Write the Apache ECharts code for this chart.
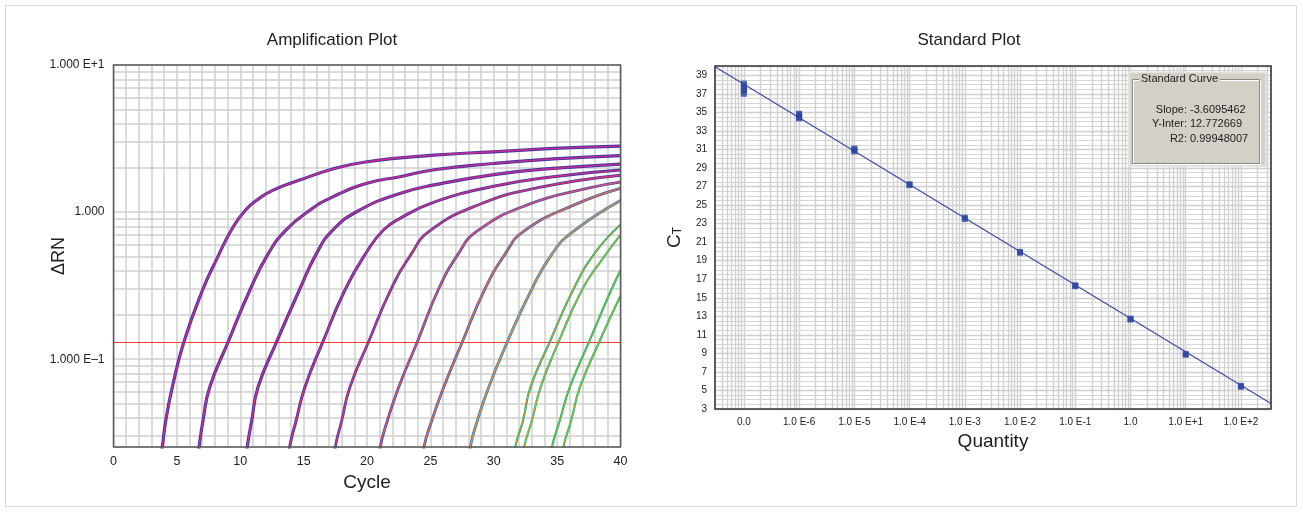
<!DOCTYPE html>
<html>
<head>
<meta charset="utf-8">
<script src="https://cdn.jsdelivr.net/npm/echarts@6/dist/echarts.min.js"></script>
<style>
  html, body { margin: 0; padding: 0; background: #fff; }
  #main { width: 1302px; height: 512px; }
</style>
</head>
<body>
<div id="main"></div>
<script>
// ---- Amplification plot: [cycle, deltaRn], one bundle per dilution ----
const run1 = [[3.5, 0.015], [3.85, 0.0253], [4.12, 0.038], [4.64, 0.0645], [5.54, 0.13], [7.06, 0.30], [8.2, 0.49], [9.3, 0.755], [10.4, 1.03], [11.5, 1.24], [12.6, 1.41], [14.7, 1.65], [17.1, 1.94], [20, 2.2], [25.3, 2.44], [30, 2.57], [34.7, 2.71], [40, 2.81]]
const run2 = [[6.45, 0.015], [6.75, 0.0253], [7.06, 0.0382], [7.59, 0.0645], [9.03, 0.13], [10.8, 0.30], [12.2, 0.52], [13.6, 0.755], [15.5, 1.03], [17.3, 1.27], [20, 1.57], [22.6, 1.74], [25.3, 1.94], [30, 2.14], [34.7, 2.3], [40, 2.42]]
const run3 = [[10.25, 0.015], [10.55, 0.0253], [10.9, 0.038], [11.4, 0.0645], [12.85, 0.13], [14.7, 0.30], [16, 0.52], [17.3, 0.755], [19.4, 1.03], [22.6, 1.34], [25.3, 1.53], [30, 1.8], [34.7, 1.98], [40, 2.12]]
const run4 = [[13.6, 0.015], [13.9, 0.0253], [14.4, 0.038], [15.1, 0.0645], [16.5, 0.13], [18.3, 0.30], [20, 0.54], [21.3, 0.755], [22.6, 0.906], [25.3, 1.17], [30, 1.5], [34.7, 1.74], [40, 1.93]]
const run5 = [[17.2, 0.015], [17.5, 0.0253], [18.0, 0.038], [18.65, 0.0645], [20.1, 0.13], [21.9, 0.30], [23.5, 0.52], [24.9, 0.74], [28.9, 1.13], [33.6, 1.47], [40, 1.78]]
const run6 = [[20.75, 0.015], [21.05, 0.0253], [21.6, 0.038], [22.5, 0.0645], [23.95, 0.13], [25.65, 0.30], [27.2, 0.52], [28.65, 0.74], [32.65, 1.12], [37.35, 1.45], [40, 1.6]]
const run7 = [[24.2, 0.015], [24.5, 0.0253], [25.1, 0.038], [26.05, 0.0645], [27.5, 0.13], [29.3, 0.30], [30.9, 0.52], [32.35, 0.74], [36.35, 1.12], [40, 1.45]]
const run8 = [[27.85, 0.015], [28.15, 0.0253], [28.7, 0.038], [29.6, 0.0645], [31.05, 0.13], [33.0, 0.30], [34.6, 0.52], [36.1, 0.72], [40, 1.2]]
const run9a = [[31.4, 0.015], [31.7, 0.0253], [32.3, 0.038], [32.9, 0.0645], [34.4, 0.13], [36.3, 0.30], [38, 0.53], [40, 0.82]]
const run9b = [[32.1, 0.015], [32.4, 0.0253], [33.0, 0.038], [33.7, 0.0645], [35.1, 0.13], [37.0, 0.30], [38.5, 0.47], [40, 0.7]]
const run10a = [[34.3, 0.015], [34.6, 0.0253], [35.2, 0.038], [36.0, 0.0645], [37.5, 0.13], [39.3, 0.30], [40, 0.4]]
const run10b = [[35.2, 0.015], [35.5, 0.0253], [36.1, 0.038], [36.8, 0.0645], [38.3, 0.13], [40, 0.27]]
const threshold = 0.13
const rnTickLabels = { '-1': '1.000 E\u20131', '0': '1.000', '1': '1.000 E+1' }

// ---- Standard plot ----
const quantities = [1e-7, 1e-6, 1e-5, 1e-4, 1e-3, 1e-2, 1e-1, 1, 10, 100]
const ctReplicates = [
  [37.0, 37.3, 37.6, 37.85, 38.1],
  [34.35, 34.5, 34.7, 34.85],
  [30.8, 30.95, 31.1],
  [27.15, 27.25],
  [23.5, 23.65],
  [19.85, 19.95],
  [16.25, 16.35],
  [12.65, 12.75],
  [8.85, 8.95],
  [5.4, 5.5]
]
const quantityRange = [3e-8, 350]
const fitLine = [[3e-8, 39.93], [350, 3.59]]
const quantityTickLabels = ['0.0', '1.0 E-6', '1.0 E-5', '1.0 E-4', '1.0 E-3', '1.0 E-2', '1.0 E-1', '1.0', '1.0 E+1', '1.0 E+2']
const curveStats = [['Slope:', '-3.6095462'], ['Y-Inter:', '12.772669'], ['R2:', '0.99948007']]

const narrow = '"Liberation Sans Narrow", "Arial Narrow", sans-serif'
const sans = '"Liberation Sans", Arial, sans-serif'
const gridLine = { color: '#cfcfcf', width: 1.5 }
const stdGrid = { color: '#d0d0d0', width: 1.4 }

// quantity axis is drawn in decades (log10 of the quantity)
const dec = q => Math.log10(q)

// pens for each run: a wider under-stroke and a thin over-stroke
const runs = [run1, run2, run3, run4, run5, run6, run7, run8, run9a, run9b, run10a, run10b]
const pens = [
  [['#3b39a5', 3.2], ['#d4278c', 1.4]],
  [['#3b39a5', 3.2], ['#d4278c', 1.4]],
  [['#3b39a5', 3.2], ['#d4278c', 1.4]],
  [['#3b39a5', 3.0], ['#d62c84', 1.4]],
  [['#3d40aa', 2.8], ['#e0306e', 1.3]],
  [['#4450b0', 2.8], ['#e4506a', 1.3]],
  [['#3f5fb0', 2.8], ['#e86a4a', 1.3]],
  [['#2f86b8', 2.8], ['#ea8a3c', 1.3]],
  [['#22a878', 2.2], ['#d4a42c', 1.0]],
  [['#2eb070', 2.2], ['#c9b236', 1.0]],
  [['#1fae6e', 2.2], ['#9cc040', 0.9]],
  [['#27b46a', 2.2], ['#b8b83a', 0.9]]
]

function decadeOf(v) {
  const e = Math.round(Math.log10(v))
  return Math.abs(Math.log10(v) - e) < 1e-3 ? e : null
}

// log grid values (k * 10^e) strictly inside a range
function logLines(lo, hi, ks) {
  const out = []
  for (let e = Math.floor(Math.log10(lo)); e <= Math.ceil(Math.log10(hi)); e++) {
    ks.forEach(k => {
      const v = k * Math.pow(10, e)
      if (v > lo * 1.0001 && v < hi / 1.0001) out.push(v)
    })
  }
  return out
}

const gridMarkLine = (key, values, style, z) => ({
  silent: true,
  z: z,
  precision: 8,
  symbol: ['none', 'none'],
  label: { show: false },
  emphasis: { disabled: true },
  animation: false,
  lineStyle: Object.assign({ type: 'solid' }, style),
  data: values.map(v => ({ [key]: v }))
})

const series = [
  { type: 'line', xAxisIndex: 0, yAxisIndex: 0, data: [], z: 1, markLine: gridMarkLine('yAxis', logLines(0.0253, 10, [2, 3, 4, 5, 6, 7, 8, 9]), gridLine, 0) },
  { type: 'line', xAxisIndex: 0, yAxisIndex: 0, data: [], z: 1, markLine: gridMarkLine('yAxis', [threshold], { color: '#f2382a', width: 1.2 }, 1) },
  { type: 'line', xAxisIndex: 1, yAxisIndex: 1, data: [], z: 1, markLine: gridMarkLine('xAxis', logLines(quantityRange[0], quantityRange[1], [1, 2, 3, 4, 5, 6, 7, 8, 9]).map(dec), stdGrid, 0) }
]

runs.forEach((run, i) => {
  pens[i].forEach(([color, width]) => {
    series.push({
      type: 'line', xAxisIndex: 0, yAxisIndex: 0, data: run,
      showSymbol: false, symbol: 'none', smooth: 0.5,
      lineStyle: { color, width }, silent: true, z: 3
    })
  })
})

series.push({
  type: 'line', xAxisIndex: 1, yAxisIndex: 1, data: fitLine.map(([q, ct]) => [dec(q), ct]),
  showSymbol: false, symbol: 'none', lineStyle: { color: '#3c4aa8', width: 1.2 }, silent: true, z: 3
})

const points = []
quantities.forEach((q, i) => ctReplicates[i].forEach(ct => points.push([dec(q), ct])))
series.push({
  type: 'scatter', xAxisIndex: 1, yAxisIndex: 1, data: points,
  symbol: 'rect', symbolSize: [6, 6], itemStyle: { color: '#2a47a3' }, silent: true, z: 4
})

const chart = echarts.init(document.getElementById('main'))
chart.setOption({
  animation: false,
  backgroundColor: '#fff',
  title: [
    { text: 'Amplification Plot', left: 327, top: 27, textAlign: 'center', textStyle: { fontFamily: sans, fontSize: 17, fontWeight: 'normal', color: '#222' } },
    { text: 'Standard Plot', left: 964, top: 27, textAlign: 'center', textStyle: { fontFamily: sans, fontSize: 17, fontWeight: 'normal', color: '#222' } }
  ],
  grid: [
    { left: 113.5, top: 65, width: 507, height: 382 },
    { left: 715, top: 66, width: 556, height: 343 }
  ],
  xAxis: [
    {
      gridIndex: 0, type: 'value', min: 0, max: 40, interval: 5,
      axisLine: { show: false }, axisTick: { show: false },
      axisLabel: { fontFamily: narrow, fontSize: 12.5, color: '#222', margin: 8 },
      splitLine: { show: true, lineStyle: gridLine },
      minorTick: { show: false, splitNumber: 5 },
      minorSplitLine: { show: true, lineStyle: gridLine },
      name: 'Cycle', nameLocation: 'middle', nameGap: 26,
      nameTextStyle: { fontFamily: sans, fontSize: 19, color: '#222' }
    },
    {
      gridIndex: 1, type: 'value', min: dec(quantityRange[0]), max: dec(quantityRange[1]),
      axisLine: { show: false }, axisTick: { show: false },
      axisLabel: {
        fontFamily: narrow, fontSize: 10, color: '#222', margin: 8,
        customValues: quantities.map(dec),
        formatter: v => quantityTickLabels[Math.round(v - dec(quantities[0]))] || ''
      },
      splitLine: { show: false },
      name: 'Quantity', nameLocation: 'middle', nameGap: 23,
      nameTextStyle: { fontFamily: sans, fontSize: 19, color: '#222' }
    }
  ],
  yAxis: [
    {
      gridIndex: 0, type: 'log', logBase: 10, min: 0.0253, max: 10,
      axisLine: { show: false }, axisTick: { show: false },
      axisLabel: {
        fontFamily: narrow, fontSize: 12, color: '#222', margin: 9,
        formatter: v => { const e = decadeOf(v); return e === null ? '' : (rnTickLabels[e] || '') }
      },
      splitLine: { show: true, lineStyle: gridLine },
      name: '\u0394RN', nameLocation: 'middle', nameRotate: 90, nameGap: 45, nameMoveOverlap: false,
      nameTextStyle: { fontFamily: sans, fontSize: 18, color: '#222' }
    },
    {
      gridIndex: 1, type: 'value', min: 3, max: 40, interval: 2,
      axisLine: { show: false }, axisTick: { show: false },
      axisLabel: { fontFamily: narrow, fontSize: 10, color: '#222', margin: 8, showMaxLabel: false },
      splitLine: { show: true, lineStyle: stdGrid },
      minorTick: { show: false, splitNumber: 4 },
      minorSplitLine: { show: true, lineStyle: { color: '#d6d6d6', width: 1.2 } },
      name: '{c|C}{t|T}', nameLocation: 'middle', nameRotate: 90, nameGap: 31, nameMoveOverlap: false,
      nameTextStyle: {
        rich: {
          c: { fontFamily: sans, fontSize: 19, color: '#222', verticalAlign: 'bottom' },
          t: { fontFamily: sans, fontSize: 12, color: '#222', verticalAlign: 'bottom' }
        }
      }
    }
  ],
  graphic: [
    { type: 'rect', z: 100, silent: true, shape: { x: 5.5, y: 5.5, width: 1291, height: 501 }, style: { fill: null, stroke: '#d9d9d9', lineWidth: 1 } },
    { type: 'rect', z: 100, silent: true, shape: { x: 113.5, y: 65, width: 507, height: 382 }, style: { fill: null, stroke: '#5a5a5a', lineWidth: 1.5 } },
    { type: 'rect', z: 100, silent: true, shape: { x: 715, y: 66, width: 556, height: 343 }, style: { fill: null, stroke: '#333', lineWidth: 1.6 } },
    // Standard Curve box
    { type: 'rect', z: 100, silent: true, shape: { x: 1128, y: 71.5, width: 139, height: 95.5 }, style: { fill: '#e4e2dc' } },
    { type: 'rect', z: 101, silent: true, shape: { x: 1130, y: 73.5, width: 135, height: 91.5 }, style: { fill: '#d4d0c8' } },
    { type: 'rect', z: 102, silent: true, shape: { x: 1133.5, y: 80.5, width: 127, height: 84 }, style: { fill: null, stroke: '#ffffff', lineWidth: 1 } },
    { type: 'rect', z: 102, silent: true, shape: { x: 1132.5, y: 79.5, width: 127, height: 84 }, style: { fill: null, stroke: '#8a8a8a', lineWidth: 1 } },
    { type: 'text', z: 103, silent: true, left: 1139, top: 73, style: { text: 'Standard Curve', font: '11px ' + sans, fill: '#222', backgroundColor: '#d4d0c8', padding: [0, 2, 0, 2] } }
  ].concat(curveStats.flatMap(([label, value], i) => [
    { type: 'text', z: 103, silent: true, x: 1187, y: 109.5 + i * 14.5, style: { text: label, font: '11px ' + sans, fill: '#222', align: 'right', verticalAlign: 'middle' } },
    { type: 'text', z: 103, silent: true, x: 1190, y: 109.5 + i * 14.5, style: { text: value, font: '11px ' + sans, fill: '#222', align: 'left', verticalAlign: 'middle' } }
  ])),
  series
})
</script>
</body>
</html>
